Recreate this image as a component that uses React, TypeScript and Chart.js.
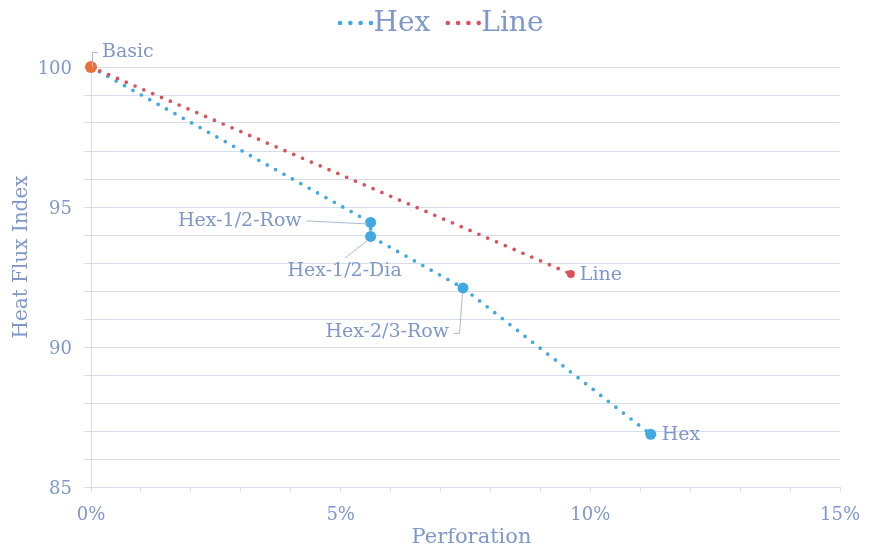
import React, { useEffect, useRef } from 'react';
import { Chart, registerables } from 'chart.js';

Chart.register(...registerables);

// ---- data ----
const seriesNames = ['Hex', 'Line'];
const hexNames = ['Basic', 'Hex-1/2-Row', 'Hex-1/2-Dia', 'Hex-2/3-Row', 'Hex'];
const hexPerforation = [0, 5.6, 5.6, 7.45, 11.21];
const hexIndex = [100, 94.45, 93.95, 92.11, 86.88];
const lineNames = ['Basic', 'Line'];
const linePerforation = [0, 9.61];
const lineIndex = [100, 92.61];
const xMin = 0;
const xMax = 15;
const yMin = 85;
const yMax = 100;
const majorStep = 5;
const xTitle = 'Perforation';
const yTitle = 'Heat Flux Index';

// ---- styles ----
const FONT = "'DejaVu Serif', 'Liberation Serif', serif";
const TEXT = '#7F97CA';
const GRID = '#D7DEEB';
const BLUE = '#41A9E1';
const RED = '#DA5159';
const ORANGE = '#E8703A';
const LEADER = '#AAB9D9';

// label placement (pixel offsets from the point) — style only
const hexLabelStyle = [
  { dx: 11, dy: -15, align: 'left', leader: [[1, 0], [1, -15], [6, -15]] },
  { dx: -69, dy: -1, align: 'right', leader: [[-65, -2], [-4, 1]] },
  { dx: -26, dy: 35, align: 'center', leader: [[-26, 21], [-4, 4]] },
  { dx: -14, dy: 44, align: 'right', leader: [[-10, 45], [-4, 45], [-1, 5]] },
  { dx: 11, dy: 1, align: 'left', leader: null },
];
const lineLabelStyle = [null, { dx: 9, dy: 1, align: 'left', leader: null }];

const labelPlugin = {
  id: 'pointLabels',
  afterDatasetsDraw(chart: any) {
    const ctx = chart.ctx;
    ctx.save();
    ctx.font = `19px ${FONT}`;
    ctx.fillStyle = TEXT;
    ctx.textBaseline = 'middle';
    const drawSet = (dsIndex: number, names: string[], styles: any[]) => {
      const meta = chart.getDatasetMeta(dsIndex);
      names.forEach((name, i) => {
        const st = styles[i];
        if (!st) return;
        const el = meta.data[i];
        const px = el.x;
        const py = el.y;
        if (st.leader) {
          ctx.beginPath();
          ctx.strokeStyle = LEADER;
          ctx.lineWidth = 1;
          st.leader.forEach((p: number[], k: number) => {
            const lx = px + p[0] + 0.5;
            const ly = py + p[1] + 0.5;
            if (k === 0) ctx.moveTo(lx, ly);
            else ctx.lineTo(lx, ly);
          });
          ctx.stroke();
        }
        ctx.textAlign = st.align;
        ctx.fillText(name, px + st.dx, py + st.dy);
      });
    };
    drawSet(0, hexNames, hexLabelStyle);
    drawSet(1, lineNames, lineLabelStyle);
    ctx.restore();
  },
};

const legendPlugin = {
  id: 'dotLegend',
  afterDraw(chart: any) {
    const ctx = chart.ctx;
    ctx.save();
    // legend
    ctx.font = `28px ${FONT}`;
    ctx.textBaseline = 'middle';
    ctx.textAlign = 'left';
    const colors = [BLUE, RED];
    const sampleW = 31;
    const gapAfterSample = 4;
    const gapBetween = 16;
    const widths = seriesNames.map((n) => sampleW + gapAfterSample + ctx.measureText(n).width);
    const total = widths.reduce((a, b) => a + b, 0) + gapBetween * (seriesNames.length - 1);
    let x = chart.width / 2 - total / 2 + 6;
    const y = 23;
    seriesNames.forEach((n, i) => {
      ctx.fillStyle = colors[i];
      for (let k = 0; k < 4; k++) {
        ctx.beginPath();
        ctx.arc(x + 1.5 + k * 10.3, y, 2.3, 0, Math.PI * 2);
        ctx.fill();
      }
      ctx.fillStyle = TEXT;
      ctx.fillText(n, x + sampleW + gapAfterSample, y + 1);
      x += widths[i] + gapBetween;
    });
    // axis titles
    const area = chart.chartArea;
    ctx.fillStyle = TEXT;
    ctx.textAlign = 'center';
    ctx.font = `21px ${FONT}`;
    ctx.fillText(xTitle, (area.left + area.right) / 2 + 6, 538);
    ctx.font = `20px ${FONT}`;
    ctx.translate(22, (area.top + area.bottom) / 2 - 20);
    ctx.rotate(-Math.PI / 2);
    ctx.fillText(yTitle, 0, 0);
    ctx.restore();
  },
};

export default function App() {
  const ref = useRef<HTMLCanvasElement | null>(null);
  useEffect(() => {
    document.body.style.margin = '0';
    const canvas = ref.current;
    if (!canvas) return;
    const hexData = hexPerforation.map((x, i) => ({ x, y: hexIndex[i] }));
    const lineData = linePerforation.map((x, i) => ({ x, y: lineIndex[i] }));
    const basicData = [{ x: hexPerforation[0], y: hexIndex[0] }];
    const chart = new Chart(canvas, {
      type: 'scatter',
      data: {
        datasets: [
          {
            label: seriesNames[0],
            data: hexData,
            showLine: true,
            clip: false,
            borderColor: BLUE,
            backgroundColor: BLUE,
            borderWidth: 3.7,
            borderDash: [0, 9.6],
            borderCapStyle: 'round',
            pointRadius: [0, 5.5, 5.5, 5.5, 5.5],
            pointBorderWidth: 0,
            order: 2,
          },
          {
            label: seriesNames[1],
            data: lineData,
            showLine: true,
            clip: false,
            borderColor: RED,
            backgroundColor: RED,
            borderWidth: 3.7,
            borderDash: [0, 9.6],
            borderCapStyle: 'round',
            pointRadius: [0, 4],
            pointBorderWidth: 0,
            order: 1,
          },
          {
            label: 'Basic',
            data: basicData,
            showLine: false,
            clip: false,
            backgroundColor: ORANGE,
            borderColor: ORANGE,
            pointRadius: 6,
            pointBorderWidth: 0,
            order: 0,
          },
        ],
      },
      options: {
        responsive: false,
        animation: false,
        layout: { autoPadding: false, padding: { top: 67, right: 30, left: 0, bottom: 0 } },
        plugins: {
          legend: { display: false },
          tooltip: { enabled: false },
        },
        scales: {
          x: {
            type: 'linear',
            min: xMin,
            max: xMax,
            afterFit(scale: any) {
              scale.height = 64;
              scale.paddingLeft = 0;
              scale.paddingRight = 0;
            },
            ticks: {
              stepSize: 1,
              autoSkip: false,
              maxRotation: 0,
              color: TEXT,
              font: { family: FONT, size: 18 },
              padding: 13,
              callback: (v: any) => (Number(v) % majorStep === 0 ? `${v}%` : ''),
            },
            grid: {
              drawOnChartArea: false,
              drawTicks: true,
              tickLength: 5,
              color: GRID,
            },
            border: { display: true, color: GRID, width: 1 },
            title: { display: false },
          },
          y: {
            type: 'linear',
            min: yMin,
            max: yMax,
            afterFit(scale: any) {
              scale.width = 91;
              scale.paddingTop = 0;
              scale.paddingBottom = 0;
            },
            ticks: {
              stepSize: 1,
              autoSkip: false,
              color: TEXT,
              font: { family: FONT, size: 18 },
              padding: 12,
              labelOffset: 2,
              callback: (v: any) => (Number(v) % majorStep === 0 ? `${v}` : ''),
            },
            grid: {
              drawOnChartArea: true,
              drawTicks: true,
              tickLength: 7,
              color: GRID,
              lineWidth: 1,
            },
            border: { display: true, color: GRID, width: 1 },
            title: { display: false },
          },
        },
      },
      plugins: [labelPlugin, legendPlugin],
    } as any);
    return () => chart.destroy();
  }, []);
  return (
    <div style={{ width: 870, height: 551 }}>
      <canvas ref={ref} width={870} height={551} />
    </div>
  );
}
